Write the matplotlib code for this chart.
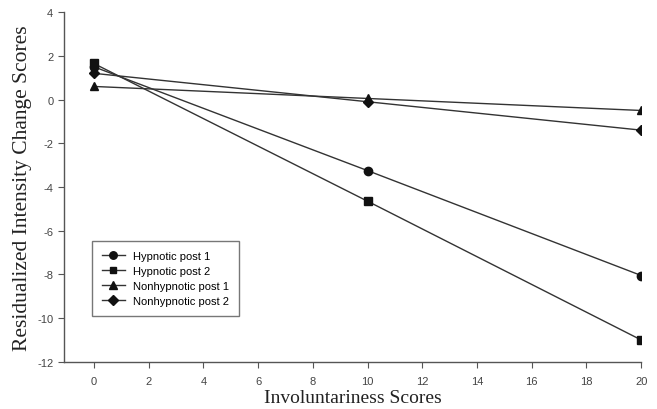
import matplotlib.pyplot as plt

plt.rcParams['axes.unicode_minus'] = False

x = [0, 10, 20]
hyp_post1 = [1.5, -3.25, -8.05]
hyp_post2 = [1.65, -4.65, -11.0]
nonhyp_post1 = [0.6, 0.05, -0.5]
nonhyp_post2 = [1.2, -0.1, -1.4]

labels = ['Hypnotic post 1', 'Hypnotic post 2', 'Nonhypnotic post 1', 'Nonhypnotic post 2']
markers = ['o', 's', '^', 'D']
sizes = [6, 5.5, 6, 5.5]
xticks = list(range(0, 21, 2))
yticks = list(range(-12, 5, 2))

fig = plt.figure(figsize=(6.57, 4.10), dpi=100)
ax = fig.add_axes([0.097, 0.115, 0.879, 0.853])

for ys, lab, m, s in zip([hyp_post1, hyp_post2, nonhyp_post1, nonhyp_post2], labels, markers, sizes):
    ax.plot(x, ys, color='#333333', lw=1.0, marker=m, ms=s, mfc='#111111', mec='#111111', label=lab)

ax.set_xlim(-1.1, 20)
ax.set_ylim(-12, 4)
ax.set_xticks(xticks)
ax.set_yticks(yticks)
ax.spines['top'].set_visible(False)
ax.spines['right'].set_visible(False)
for sp in ['left', 'bottom']:
    ax.spines[sp].set_color('#555555')
    ax.spines[sp].set_linewidth(1.0)
ax.tick_params(direction='out', length=4, color='#555555', labelcolor='#444444', labelsize=8)
for t in ax.get_xticklabels() + ax.get_yticklabels():
    t.set_family('Liberation Sans')
ax.tick_params(axis='x', pad=6)

ax.set_xlabel('Involuntariness Scores', family='Liberation Serif', fontsize=14, color='#222222', labelpad=2)
ax.set_ylabel('Residualized Intensity Change Scores', family='Liberation Serif', fontsize=15.5, color='#222222', labelpad=4)

leg = ax.legend(loc='lower left', bbox_to_anchor=(0.04, 0.115), frameon=True, fancybox=False,
                prop={'family': 'Liberation Sans', 'size': 8}, handlelength=2.0, borderpad=0.9,
                labelspacing=0.45, markerscale=0.9)
leg.get_frame().set_edgecolor('#555555')
leg.get_frame().set_linewidth(1.0)

fig.savefig('out.png', dpi=100)
